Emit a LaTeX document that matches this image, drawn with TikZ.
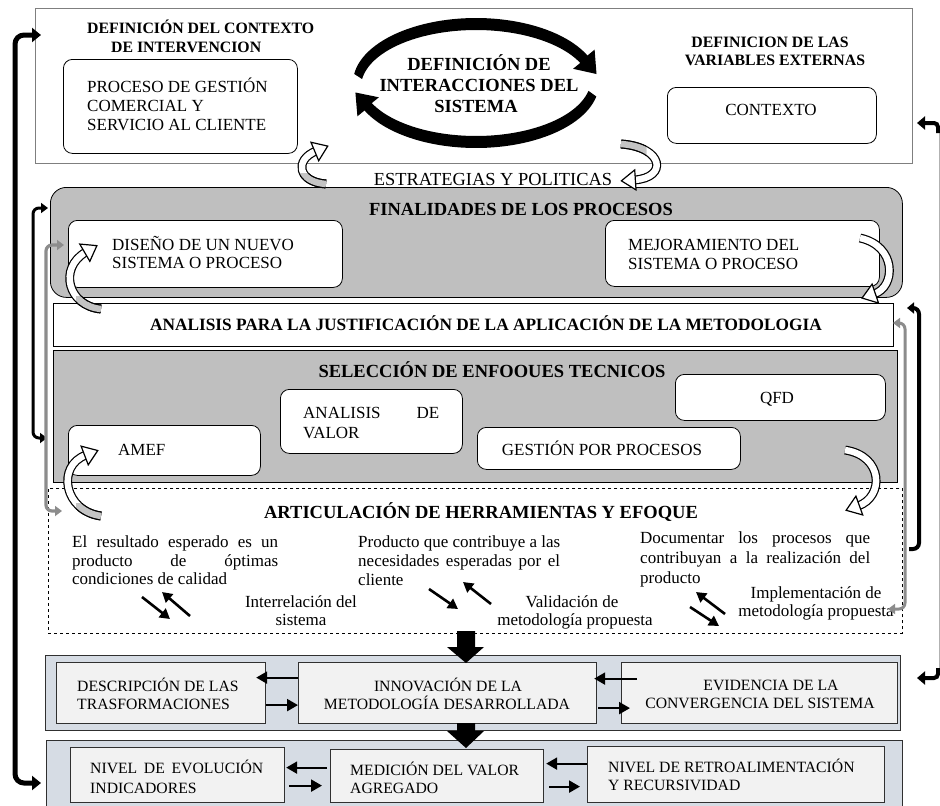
\documentclass[tikz,border=0pt]{standalone}
\usepackage{fontspec}
\setmainfont{Liberation Serif}
\usetikzlibrary{arrows.meta,decorations.markings,calc}
\definecolor{panelgray}{HTML}{BFBFBF}
\definecolor{bluepanel}{HTML}{D6DCE4}
\definecolor{boxfill}{HTML}{F2F2F2}
\definecolor{arrgray}{HTML}{8C8C8C}
\definecolor{framegray}{HTML}{7F7F7F}
\definecolor{darkline}{HTML}{303030}
\definecolor{tailgray}{HTML}{C4C4C4}
\newcommand\fHd{\fontsize{15.8}{18}\selectfont\bfseries}
\newcommand\fBig{\fontsize{18.5}{21}\selectfont\bfseries}
\newcommand\fAn{\fontsize{17.3}{20}\selectfont\bfseries}
\newcommand\fReg{\fontsize{17}{20}\selectfont}
\newcommand\fEst{\fontsize{18.4}{21}\selectfont}
\newcommand\fBot{\fontsize{15.7}{18}\selectfont}
\newcommand\mybox[6]{\node[#2, anchor=north west, minimum width=#5pt-#3pt, minimum height=#6pt-#4pt] (#1) at (#3,#4) {};}
\newcommand\myCurv[4]{\draw[cbody] #1 .. controls #2 and #3 .. #4; \path[headpath] #1 .. controls #2 and #3 .. #4;}
\newcommand\myTail[6]{\begin{scope}\clip #5 rectangle #6; \draw[cbody, double=tailgray] #1 .. controls #2 and #3 .. #4;\end{scope}}
\begin{document}
\begin{tikzpicture}[x=1pt,y=-1pt,
  tx/.style={inner sep=0pt, anchor=base west},
  txc/.style={inner sep=0pt, anchor=base},
  rbox/.style={draw=black, line width=0.8pt, rounded corners=9pt, fill=white, inner sep=0pt},
  gpanel/.style={draw=black, line width=0.8pt, fill=panelgray, inner sep=0pt},
  bpanel/.style={draw=darkline, line width=1pt, fill=bluepanel, inner sep=0pt},
  ibox/.style={draw=darkline, line width=1.2pt, fill=boxfill, inner sep=0pt},
  cbody/.style={draw=black, line width=1.2pt, double=white, double distance=6.5pt},
  headpath/.style={decoration={markings, mark=at position 0.995 with {\draw[fill=white, line width=1.2pt, line join=miter] (-1,-10) -- (13,0) -- (-1,10) -- cycle;}}, decorate},
  barr/.style={line width=2.2pt, -{Triangle[length=11pt,width=12pt]}},
  sarr/.style={line width=2.6pt, -{Triangle[length=10pt,width=11pt]}},
]
\useasboundingbox[fill=white] (0,0) rectangle (940,806);

% ---------- top frame ----------
\mybox{top}{draw=framegray, line width=0.7pt, inner sep=0pt}{35}{8}{912}{163}
\node[tx, font=\fHd] (h1a) at (87,33) {DEFINICIÓN DEL CONTEXTO};
\node[tx, font=\fHd] (h1b) at (111,52) {DE INTERVENCION};
\mybox{proc}{rbox}{63}{59}{297}{153}
\node[tx, font=\fReg] (p1) at (87,92) {PROCESO DE GESTIÓN};
\node[tx, font=\fReg] (p2) at (87,111) {COMERCIAL Y};
\node[tx, font=\fReg] (p3) at (87,130) {SERVICIO AL CLIENTE};

\node[txc, font=\fHd] (h2a) at (770,47) {DEFINICION DE LAS};
\node[txc, font=\fHd] (h2b) at (775,65) {VARIABLES EXTERNAS};
\mybox{ctx}{rbox}{667}{87}{876}{143}
\node[txc, font=\fReg] (ctxt) at (771,115) {CONTEXTO};

% ellipse arrows
\fill plot[domain=188:335, samples=50] ({476+123*cos(\x)},{83+65*sin(\x)})
  -- (594.6,49.6) -- (596.5,74) -- (573.1,68.8)
  -- plot[domain=335:188, samples=50] ({476+115*cos(\x)},{87+57*sin(\x)}) -- cycle;
\fill plot[domain=12:155, samples=50] ({476+123*cos(\x)},{83+65*sin(\x)})
  -- (357.4,116.3) -- (355.4,92.5) -- (378.9,97.3)
  -- plot[domain=155:12, samples=50] ({476+115*cos(\x)},{79+57*sin(\x)}) -- cycle;
\node[txc, font=\fBig] (e1) at (479,70) {DEFINICIÓN DE};
\node[txc, font=\fBig] (e2) at (479,91) {INTERACCIONES DEL};
\node[txc, font=\fBig] (e3) at (476,112) {SISTEMA};

\node[txc, font=\fEst] (estr) at (493,185) {ESTRATEGIAS Y POLITICAS};

% ---------- finalidades ----------
\mybox{fin}{gpanel, rounded corners=16pt}{50}{187}{902}{297}
\node[txc, font=\fBig] (fint) at (521,215) {FINALIDADES DE LOS PROCESOS};
\mybox{dis}{rbox}{68}{220}{342}{287}
\node[tx, font=\fReg] (d1) at (112,250) {DISEÑO DE UN NUEVO};
\node[tx, font=\fReg] (d2) at (112,268) {SISTEMA O PROCESO};
\mybox{mej}{rbox}{605}{220}{879}{286}
\node[tx, font=\fReg] (m1) at (628,250) {MEJORAMIENTO DEL};
\node[tx, font=\fReg] (m2) at (628,269) {SISTEMA O PROCESO};

\mybox{ana}{draw=black, line width=0.8pt, fill=white, inner sep=0pt}{53}{303}{893}{346}
\node[txc, font=\fAn] (anat) at (486,330) {ANALISIS PARA LA JUSTIFICACIÓN DE LA APLICACIÓN DE LA METODOLOGIA};

% ---------- seleccion ----------
\mybox{sel}{gpanel}{53}{350}{897}{482}
\node[txc, font=\fBig] (selt) at (492,377) {SELECCIÓN DE ENFOOUES TECNICOS};
\mybox{val}{rbox}{280}{389}{462}{453}
\node[tx, font=\fReg] (v1) at (303,418) {\makebox[136pt][s]{ANALISIS DE}};
\node[tx, font=\fReg] (v2) at (303,438) {VALOR};
\mybox{qfd}{rbox}{675}{374}{885}{420}
\node[txc, font=\fReg] (qfdt) at (777,403) {QFD};
\mybox{ges}{rbox}{477}{427}{740}{469}
\node[txc, font=\fReg] (gest) at (602,455) {GESTIÓN POR PROCESOS};
\mybox{amef}{rbox}{68}{425}{260}{475}
\node[tx, font=\fReg] (amt) at (118,455) {AMEF};

% ---------- articulacion ----------
\mybox{art}{draw=black, line width=0.7pt, dashed, inner sep=0pt}{48}{488}{902}{633}
\node[txc, font=\fBig] (artt) at (481,518) {ARTICULACIÓN DE HERRAMIENTAS Y EFOQUE};
\node[tx, font=\fReg] (r1) at (72,547) {\makebox[206pt][s]{El resultado esperado es un}};
\node[tx, font=\fReg] (r2) at (72,566) {\makebox[206pt][s]{producto de óptimas}};
\node[tx, font=\fReg] (r3) at (72,584) {condiciones de calidad};
\node[tx, font=\fReg] (q1) at (358,547) {\makebox[202pt][s]{Producto que contribuye a las}};
\node[tx, font=\fReg] (q2) at (358,566) {\makebox[202pt][s]{necesidades esperadas por el}};
\node[tx, font=\fReg] (q3) at (358,585) {cliente};
\node[tx, font=\fReg] (w1) at (640,543) {\makebox[230pt][s]{Documentar los procesos que}};
\node[tx, font=\fReg] (w2) at (640,563) {\makebox[230pt][s]{contribuyan a la realización del}};
\node[tx, font=\fReg] (w3) at (640,583) {producto};
\node[txc, font=\fReg] (i1) at (301,607) {Interrelación del};
\node[txc, font=\fReg] (i2) at (301,625) {sistema};
\node[txc, font=\fReg] (va1) at (572,607) {Validación de};
\node[txc, font=\fReg] (va2) at (575,625) {metodología propuesta};
\node[txc, font=\fReg] (im1) at (816,598) {Implementación de};
\node[txc, font=\fReg] (im2) at (816,616) {metodología propuesta};

\draw[sarr] (142,597) -- (170,619);
\draw[sarr] (190,616) -- (162,592);
\draw[sarr] (429,589) -- (458,609);
\draw[sarr] (491,604) -- (463,582);
\draw[sarr] (725,614) -- (696,592);
\draw[sarr] (690,607) -- (719,626);

% ---------- bottom panels ----------
\mybox{pan1}{bpanel}{45}{655}{900}{730}
\mybox{desc}{ibox}{56}{662}{265}{723}
\mybox{innov}{ibox}{298}{662}{596}{723}
\mybox{evid}{ibox}{621}{662}{897}{723}
\node[tx, font=\fBot] (de1) at (77,691) {DESCRIPCIÓN DE LAS};
\node[tx, font=\fBot] (de2) at (77,709) {TRASFORMACIONES};
\node[txc, font=\fBot] (in1) at (448,691) {INNOVACIÓN DE LA};
\node[txc, font=\fBot] (in2) at (447,709) {METODOLOGÍA DESARROLLADA};
\node[txc, font=\fBot] (ev1) at (771,690) {EVIDENCIA DE LA};
\node[txc, font=\fBot] (ev2) at (760,708) {CONVERGENCIA DEL SISTEMA};

\mybox{pan2}{bpanel}{46}{740}{902}{812}
\mybox{niv}{ibox}{70}{747}{284}{802}
\mybox{med}{ibox}{330}{749}{543}{802}
\mybox{ret}{ibox}{587}{746}{884}{802}
\node[tx, font=\fBot] (n1) at (90,773) {\makebox[173pt][s]{NIVEL DE EVOLUCIÓN}};
\node[tx, font=\fBot] (n2) at (90,793) {INDICADORES};
\node[tx, font=\fBot] (me1) at (350,775) {MEDICIÓN DEL VALOR};
\node[tx, font=\fBot] (me2) at (350,793) {AGREGADO};
\node[tx, font=\fBot] (re1) at (608,772) {NIVEL DE RETROALIMENTACIÓN};
\node[tx, font=\fBot] (re2) at (608,790) {Y RECURSIVIDAD};

% arrows between bottom boxes
\draw[barr] ($(innov.west)+(0,-15.5)$) -- ($(desc.east)+(-10,-15.5)$);
\draw[barr] ($(desc.east)+(0,12)$) -- ($(innov.west)+(0,12)$);
\draw[barr] ($(evid.west)+(16,-14.5)$) -- ($(innov.east)+(-3,-14.5)$);
\draw[barr] ($(innov.east)+(1,15)$) -- ($(evid.west)+(9,15)$);
\draw[barr] ($(med.west)+(-3,-8.5)$) -- ($(niv.east)+(1,-7.5)$);
\draw[barr] ($(niv.east)+(4,10.5)$) -- ($(med.west)+(-8,9.5)$);
\draw[barr] ($(ret.west)+(0,-11)$) -- ($(med.east)+(2,-12.5)$);
\draw[barr] ($(med.east)+(5,10.5)$) -- ($(ret.west)+(-7,12)$);

% big block arrows down
\fill (457,631) -- (475,631) -- (475,647) -- (484,647) -- (466,663) -- (447,647) -- (457,647) -- cycle;
\fill (457,723) -- (475,723) -- (475,731) -- (484,731) -- (466,748) -- (447,731) -- (457,731) -- cycle;

% ---------- curved block arrows ----------
\myCurv{(326,184)}{(298,182)}{(294,160)}{(316,151)}
\myTail{(326,184)}{(298,182)}{(294,160)}{(316,151)}{(300,173)}{(336,192)}
\myCurv{(621,144)}{(664,147)}{(668,178)}{(634,180)}
\myTail{(621,144)}{(664,147)}{(668,178)}{(634,180)}{(612,134)}{(646,156)}
\myCurv{(101,309)}{(68,306)}{(58,268)}{(86,252)}
\myTail{(101,309)}{(68,306)}{(58,268)}{(86,252)}{(76,296)}{(108,318)}
\myCurv{(860,238)}{(897,246)}{(896,287)}{(874,294)}
\myCurv{(101,516)}{(64,511)}{(56,466)}{(86,455)}
\myTail{(101,516)}{(64,511)}{(56,466)}{(86,455)}{(76,503)}{(108,525)}
\myCurv{(845,450)}{(884,456)}{(884,497)}{(858,506)}

% ---------- side feedback arrows ----------
\coordinate (L1a) at (41,35);
\coordinate (L1b) at (41,783);
\draw[line width=5pt, rounded corners=9pt, {Triangle[length=9pt,width=14pt]}-{Triangle[length=9pt,width=14pt]}] (L1a) -- (15,35) -- (15,783) -- (L1b);
\coordinate (L2a) at (48,208);
\coordinate (L2b) at (47,438);
\draw[line width=3pt, rounded corners=6pt, {Triangle[length=7pt,width=10pt]}-{Triangle[length=7pt,width=10pt]}] (L2a) -- (33,208) -- (33,438) -- (L2b);
\coordinate (L3a) at (64,245);
\coordinate (L3b) at (62,511);
\draw[arrgray, line width=3.2pt, rounded corners=6pt, {Triangle[length=7pt,width=10pt]}-{Triangle[length=7pt,width=10pt]}] (L3a) -- (46,245) -- (46,511) -- (L3b);

\coordinate (R1a) at (907,308);
\coordinate (R1b) at (909,549);
\draw[line width=4pt, rounded corners=6pt, {Triangle[length=7pt,width=11pt]}-] (R1a) -- (919,308) -- (919,549) -- (R1b);
\coordinate (R2a) at (893,323);
\coordinate (R2b) at (888,609);
\draw[arrgray, line width=3pt, rounded corners=6pt, {Triangle[length=7pt,width=10pt]}-{Triangle[length=7pt,width=10pt]}] (R2a) -- (905,323) -- (905,609) -- (R2b);

\coordinate (R3a) at (917,123);
\coordinate (R3b) at (917,678);
\draw[gray!60, line width=1pt] (939,131) -- (939,670);
\draw[line width=4pt, rounded corners=4pt, {Triangle[length=8pt,width=13pt]}-] (R3a) -- (938,123) -- (938,133);
\draw[line width=4pt, rounded corners=4pt, {Triangle[length=8pt,width=13pt]}-] (R3b) -- (938,678) -- (938,668);
\end{tikzpicture}
\end{document}
